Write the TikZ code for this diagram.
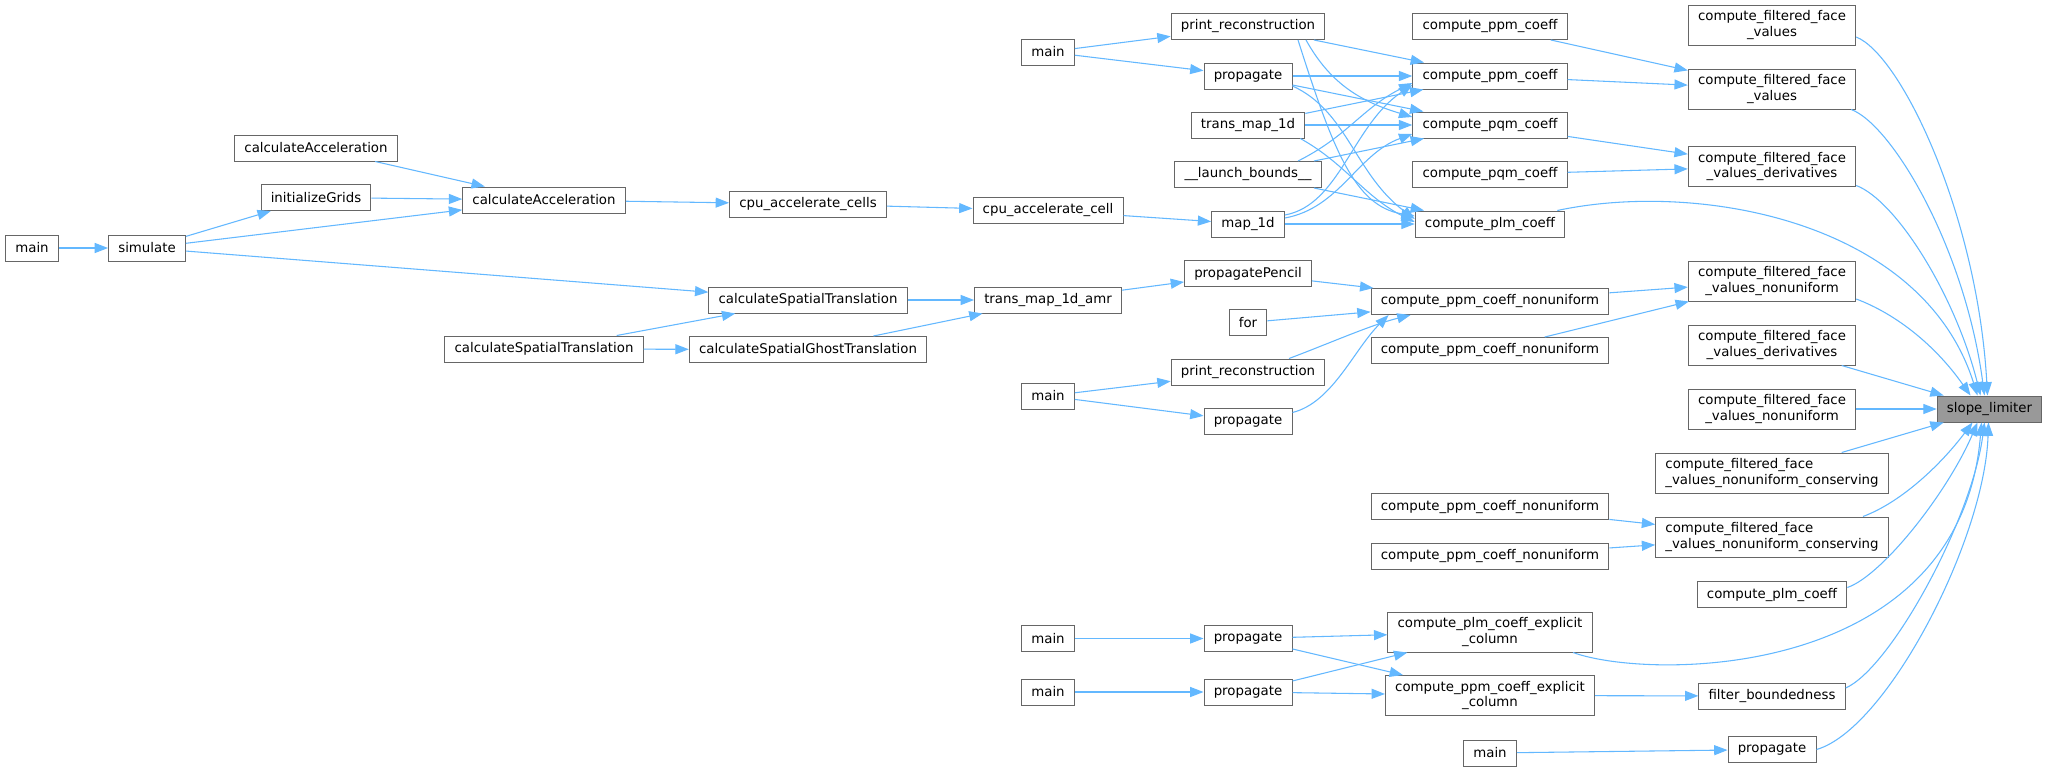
\documentclass[tikz,border=0pt]{standalone}
\usepackage{fontspec}
\setmainfont{DejaVu Sans}
\usetikzlibrary{arrows.meta, calc}
\definecolor{edgeblue}{HTML}{63B8FF}
\definecolor{boxgray}{HTML}{666666}
\definecolor{hitgray}{HTML}{999999}

\begin{document}
\begin{tikzpicture}[x=0.75pt, y=-0.75pt,
                fn/.style={draw=boxgray, line width=0.75pt, fill=white, minimum height=19.5pt,
                           inner xsep=7.3pt, inner ysep=2pt, font=\fontsize{10}{11.5}\selectfont},
                fntwo/.style={fn, minimum height=30pt, align=center},
                calls/.style={draw=edgeblue, line width=0.8pt, -{Triangle[length=10pt, width=7.5pt]}}]

                \useasboundingbox (0,0) rectangle (2048,771);
                \fill[white] (0,0) rectangle (2048,771);

                % Acceleration / translation callers
                \node[fn] (mainA) at (32,248) {main};
                \node[fn] (simulate) at (147,248) {simulate};
                \node[fn] (calcAccTop) at (316,148) {calculateAcceleration};
                \node[fn] (initGrids) at (316,197.5) {initializeGrids};
                \node[fn] (calcAcc) at (544,200) {calculateAcceleration};
                \node[fn] (spTransL) at (544,349) {calculateSpatialTranslation};
                \node[fn] (cpuCells) at (808,204) {cpu\_accelerate\_cells};
                \node[fn] (spTransR) at (808,300) {calculateSpatialTranslation};
                \node[fn] (ghostTrans) at (808,349.5) {calculateSpatialGhostTranslation};

                \node[fn] (mainB) at (1048,52) {main};
                \node[fn] (cpuCell) at (1048,210.5) {cpu\_accelerate\_cell};
                \node[fn] (transAmr) at (1048,300) {trans\_map\_1d\_amr};
                \node[fn] (mainC) at (1048,396) {main};
                \node[fn] (mainD) at (1048,638.5) {main};
                \node[fn] (mainE) at (1048,692) {main};

                % Mapping routines
                \node[fn] (printA) at (1248,26.5) {print\_reconstruction};
                \node[fn] (propA) at (1248,76) {propagate};
                \node[fn] (transMap) at (1248,125) {trans\_map\_1d};
                \node[fn] (launchB) at (1248,174.5) {\_\_launch\_bounds\_\_};
                \node[fn] (mapOne) at (1248,224) {map\_1d};
                \node[fn] (pencil) at (1248,273.5) {propagatePencil};
                \node[fn] (forLoop) at (1248,322.5) {for};
                \node[fn] (printB) at (1248,372) {print\_reconstruction};
                \node[fn] (propB) at (1248,421.5) {propagate};
                \node[fn] (propC) at (1248,638.5) {propagate};
                \node[fn] (propD) at (1248,692) {propagate};

                % Coefficient routines
                \node[fn] (ppmA) at (1490,26.5) {compute\_ppm\_coeff};
                \node[fn] (ppmB) at (1490,76) {compute\_ppm\_coeff};
                \node[fn] (pqmA) at (1490,125) {compute\_pqm\_coeff};
                \node[fn] (pqmB) at (1490,174.5) {compute\_pqm\_coeff};
                \node[fn] (plmA) at (1490,224) {compute\_plm\_coeff};
                \node[fn] (ppmNuA) at (1490,301.5) {compute\_ppm\_coeff\_nonuniform};
                \node[fn] (ppmNuB) at (1490,350.5) {compute\_ppm\_coeff\_nonuniform};
                \node[fn] (ppmNuC) at (1490,506.5) {compute\_ppm\_coeff\_nonuniform};
                \node[fn] (ppmNuD) at (1490,556) {compute\_ppm\_coeff\_nonuniform};
                \node[fntwo] (plmExpl) at (1490,632) {compute\_plm\_coeff\_explicit\\\_column};
                \node[fntwo] (ppmExpl) at (1490,695.5) {compute\_ppm\_coeff\_explicit\\\_column};
                \node[fn] (mainF) at (1490,753) {main};

                % Face value routines
                \node[fntwo] (ffvA) at (1772,25) {compute\_filtered\_face\\\_values};
                \node[fntwo] (ffvB) at (1772,89) {compute\_filtered\_face\\\_values};
                \node[fntwo] (ffvdA) at (1772,166.5) {compute\_filtered\_face\\\_values\_derivatives};
                \node[fntwo] (ffvnA) at (1772,281) {compute\_filtered\_face\\\_values\_nonuniform};
                \node[fntwo] (ffvdB) at (1772,345) {compute\_filtered\_face\\\_values\_derivatives};
                \node[fntwo] (ffvnB) at (1772,409) {compute\_filtered\_face\\\_values\_nonuniform};
                \node[fntwo, align=left] (ffvncA) at (1772,473) {compute\_filtered\_face\\\_values\_nonuniform\_conserving};
                \node[fntwo, align=left] (ffvncB) at (1772,537) {compute\_filtered\_face\\\_values\_nonuniform\_conserving};
                \node[fn] (plmB) at (1772,594.5) {compute\_plm\_coeff};
                \node[fn] (filterB) at (1772,696) {filter\_boundedness};
                \node[fn] (propE) at (1772,749.5) {propagate};

                \node[fn, fill=hitgray] (slope) at (1989.5,409) {slope\_limiter};

                % Left part
                \draw[calls] (mainA) -- (simulate);
                \draw[calls] (simulate) -- (initGrids);
                \draw[calls] (simulate) -- (calcAcc);
                \draw[calls] (simulate) -- (spTransR);
                \draw[calls] (initGrids) -- (calcAcc);
                \draw[calls] (calcAccTop) -- (calcAcc);
                \draw[calls] (calcAcc) -- (cpuCells);
                \draw[calls] (cpuCells) -- (cpuCell);
                \draw[calls] (cpuCell) -- (mapOne);
                \draw[calls] (spTransL) -- (ghostTrans);
                \draw[calls] (spTransL) -- (spTransR);
                \draw[calls] (spTransR) -- (transAmr);
                \draw[calls] (ghostTrans) -- (transAmr);
                \draw[calls] (transAmr) -- (pencil);
                \draw[calls] (mainB) -- (printA);
                \draw[calls] (mainB) -- (propA);
                \draw[calls] (mainC) -- (printB);
                \draw[calls] (mainC) -- (propB);
                \draw[calls] (mainD) -- (propC);
                \draw[calls] (mainE) -- (propD);

                % Into the coefficient routines
                \draw[calls] (printA) -- (ppmB);
                \draw[calls] ($(printA.south)+(58,0)$) .. controls +(25,45) and +(-50,-15) .. ($(pqmA.west)+(0,-8)$);
                \draw[calls] ($(printA.south)+(50,0)$) .. controls +(35,110) and +(-60,-10) .. ($(plmA.west)+(0,-8)$);
                \draw[calls] (propA) -- (ppmB);
                \draw[calls] (propA) -- (pqmA);
                \draw[calls] ($(propA.east)+(0,10)$) .. controls +(55,25) and +(-60,-45) .. ($(plmA.west)+(0,-5)$);
                \draw[calls] (transMap) -- (ppmB);
                \draw[calls] (transMap) -- (pqmA);
                \draw[calls] ($(transMap.south east)+(-5,0)$) .. controls +(45,25) and +(-50,-25) .. ($(plmA.west)+(0,-2)$);
                \draw[calls] ($(launchB.north)+(50,0)$) .. controls +(50,-25) and +(-50,25) .. ($(ppmB.west)+(0,7)$);
                \draw[calls] (launchB) -- (pqmA);
                \draw[calls] (launchB) -- (plmA);
                \draw[calls] ($(mapOne.east)+(0,-9)$) .. controls +(55,-10) and +(-60,40) .. ($(ppmB.west)+(0,9)$);
                \draw[calls] ($(mapOne.east)+(0,-6)$) .. controls +(55,-10) and +(-55,20) .. ($(pqmA.west)+(0,9)$);
                \draw[calls] (mapOne) -- (plmA);
                \draw[calls] (pencil) -- (ppmNuA);
                \draw[calls] (forLoop) -- (ppmNuA);
                \draw[calls] ($(printB.north)+(41,0)$) .. controls +(40,-15) and +(-40,10) .. ($(ppmNuA.south west)+(40,0)$);
                \draw[calls] ($(propB.east)+(0,-9)$) .. controls +(40,-10) and +(-35,35) .. ($(ppmNuA.south west)+(18,0)$);
                \draw[calls] (propC) -- (plmExpl);
                \draw[calls] (propC) -- (ppmExpl);
                \draw[calls] (propD) -- (plmExpl);
                \draw[calls] (propD) -- (ppmExpl);

                % Into the face value routines
                \draw[calls] (ppmA) -- (ffvB);
                \draw[calls] (ppmB) -- (ffvB);
                \draw[calls] (pqmA) -- (ffvdA);
                \draw[calls] (pqmB) -- (ffvdA);
                \draw[calls] (ppmNuA) -- (ffvnA);
                \draw[calls] (ppmNuB) -- (ffvnA);
                \draw[calls] (ppmNuC) -- (ffvncB);
                \draw[calls] (ppmNuD) -- (ffvncB);
                \draw[calls] (ppmExpl) -- (filterB);
                \draw[calls] (mainF) -- (propE);

                % Into slope_limiter
                \draw[calls] ($(ffvA.east)+(0,12)$) .. controls +(45,18) and +(-10,-180) .. ($(slope.north)+(-2,0)$);
                \draw[calls] ($(ffvB.south east)+(-5,0)$) .. controls +(40,15) and +(-20,-150) .. ($(slope.north)+(-5,0)$);
                \draw[calls] ($(ffvdA.east)+(0,19)$) .. controls +(40,15) and +(-25,-100) .. ($(slope.north)+(-9,0)$);
                \draw[calls] ($(plmA.north east)+(-8,0)$) .. controls +(140,-30) and +(-55,-175) .. ($(slope.north)+(-12,0)$);
                \draw[calls] ($(ffvnA.east)+(0,18)$) .. controls +(40,15) and +(-35,-50) .. ($(slope.north)+(-19,0)$);
                \draw[calls] (ffvdB) -- (slope);
                \draw[calls] (ffvnB) -- (slope);
                \draw[calls] (ffvncA) -- (slope);
                \draw[calls] ($(ffvncB.north)+(91,0)$) .. controls +(40,-15) and +(-30,40) .. ($(slope.south)+(-17,0)$);
                \draw[calls] ($(plmB.east)+(0,-7)$) .. controls +(35,-12) and +(-30,70) .. ($(slope.south)+(-12,0)$);
                \draw[calls] ($(plmExpl.south)+(83,0)$) .. controls +(77,28) and +(-21,258) .. ($(slope.south)+(-8,0)$);
                \draw[calls] ($(filterB.east)+(0,-8)$) .. controls +(45,-20) and +(-13,98) .. ($(slope.south)+(-5,0)$);
                \draw[calls] (propE.east) .. controls +(70,-20) and +(-4,118) .. ($(slope.south)+(-1,0)$);
            \end{tikzpicture}
\end{document}
